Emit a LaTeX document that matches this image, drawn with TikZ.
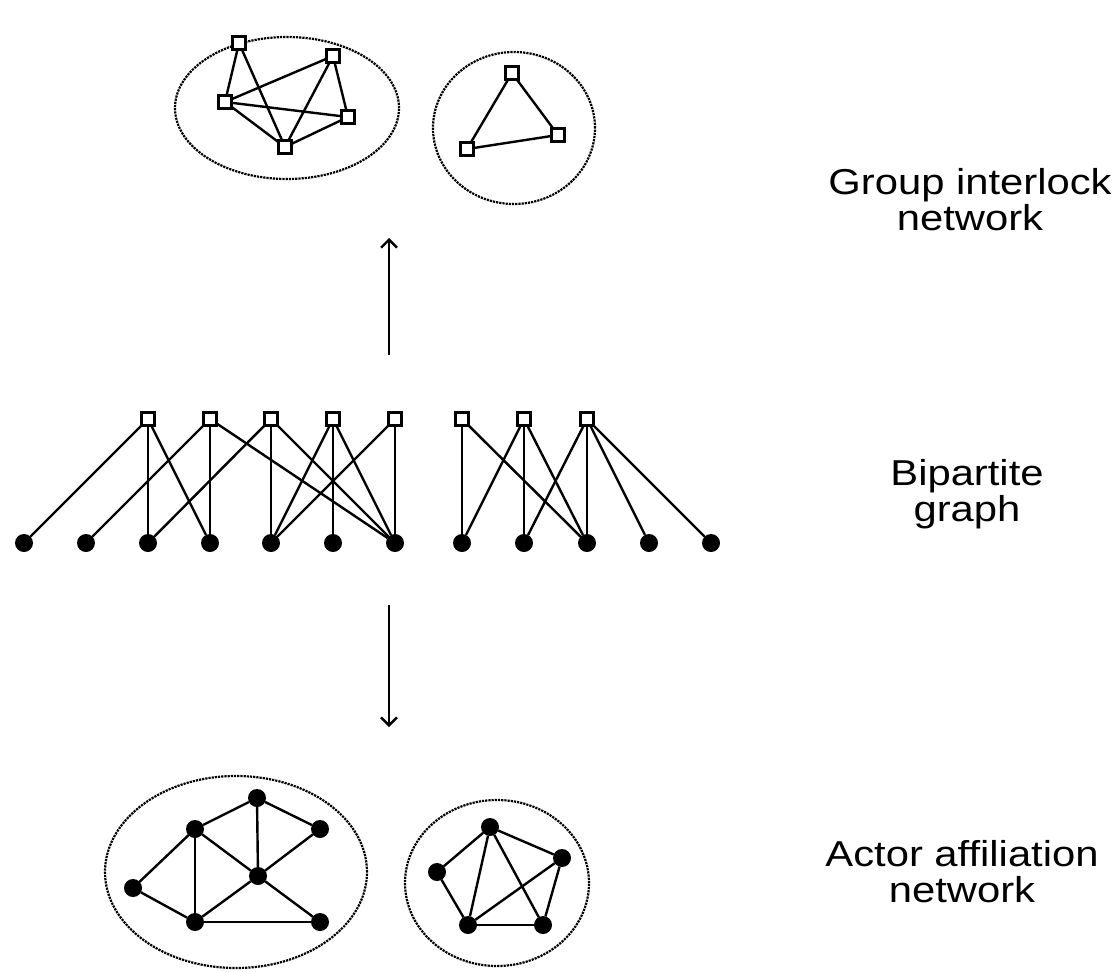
\documentclass[tikz,border=0pt]{standalone}
\usepackage{fontspec}
\newfontfamily\labelfont[FakeStretch=1.16]{Liberation Sans}
\usepackage{tikz}
\usepackage{tkz-berge}
\usetikzlibrary{decorations,arrows,arrows.meta,shapes}
\newcommand{\inners}{0pt}
\newcommand{\outers}{0pt}
\tikzset{
  blob/.style={shape=ellipse, draw=black, densely dotted, line width=2.2pt},
  firm/.style={shape=rectangle, draw=black, fill=white, line width=2.4pt,
               minimum size=13pt, inner sep=\inners, outer sep=\outers},
  caption/.style={align=center, font=\labelfont\fontsize{36}{36}\selectfont},
  flow/.style={-{Straight Barb[length=8pt,width=16pt,line width=2.4pt]}, line width=2.4pt}
}

\begin{document}
\begin{tikzpicture}[x=1pt,y=-1pt]
            %\draw[help lines] (0,0) grid (1117,972);
            \useasboundingbox (0,0) rectangle (1117,972);
            \GraphInit[vstyle=Simple]
            \SetVertexSimple[Shape=circle, FillColor=black, MinSize=18pt]
            \tikzset{VertexStyle/.style = {shape=circle, fill=black, minimum size=18pt,
                       inner sep = \inners, outer sep = \outers},
                     EdgeStyle/.append style = {line width=2.4pt, color=black}}
            % dotted outlines
            \node[blob, minimum width=224pt, minimum height=142pt] (grpL) at (287,108) {};
            \node[blob, minimum width=162pt, minimum height=152pt] (grpR) at (514,128) {};
            \node[blob, minimum width=262pt, minimum height=192pt] (actL) at (236,872) {};
            \node[blob, minimum width=184pt, minimum height=166pt] (actR) at (497,883) {};
            % group interlock network
            \node[firm] (g1) at (239,43) {};
            \node[firm] (g2) at (333,56) {};
            \node[firm] (g3) at (225,102) {};
            \node[firm] (g4) at (348,117) {};
            \node[firm] (g5) at (285,147) {};
            \Edges(g1,g3,g2,g4,g5,g1)
            \Edge(g3)(g4)
            \Edge(g3)(g5)
            \Edge(g2)(g5)
            \node[firm] (h1) at (512,73) {};
            \node[firm] (h2) at (558,135) {};
            \node[firm] (h3) at (467,149) {};
            \Edges(h1,h2,h3,h1)
            % bipartite graph
            \foreach \i/\x in {1/148,2/210,3/271,4/333,5/395,6/462,7/524,8/587}
              {\node[firm] (s\i) at (\x,419) {};}
            \foreach \i/\x in {1/24,2/86,3/148,4/210,5/271,6/333,7/395,8/462,9/524,10/587,11/649,12/711}
              {\Vertex[x=\x,y=543,NoLabel]{a\i}}
            \foreach \s/\a in {1/1,1/3,1/4,2/2,2/4,2/7,3/3,3/5,3/7,4/5,4/6,4/7,5/5,5/7,
                               6/8,6/10,7/8,7/9,7/10,8/9,8/10,8/11,8/12}
              {\Edge(s\s)(a\a)}
            % actor affiliation network
            \Vertex[x=257,y=798,NoLabel]{b1}
            \Vertex[x=195,y=829,NoLabel]{b2}
            \Vertex[x=320,y=829,NoLabel]{b3}
            \Vertex[x=133,y=888,NoLabel]{b4}
            \Vertex[x=258,y=876,NoLabel]{b5}
            \Vertex[x=195,y=922,NoLabel]{b6}
            \Vertex[x=320,y=922,NoLabel]{b7}
            \Edges(b4,b2,b1,b3,b5,b7,b6,b4)
            \Edges(b2,b6,b5,b2)
            \Edge(b1)(b5)
            \Vertex[x=490,y=827,NoLabel]{c1}
            \Vertex[x=562,y=858,NoLabel]{c2}
            \Vertex[x=437,y=872,NoLabel]{c3}
            \Vertex[x=468,y=925,NoLabel]{c4}
            \Vertex[x=543,y=925,NoLabel]{c5}
            \Edges(c3,c1,c2,c5,c4,c3)
            \Edges(c4,c1,c5)
            \Edge(c4)(c2)
            % arrows
            \coordinate (upfrom) at (389,355);
            \coordinate (upto) at (389,238);
            \coordinate (downfrom) at (389,605);
            \coordinate (downto) at (389,727);
            \draw[flow] (upfrom) -- (upto);
            \draw[flow] (downfrom) -- (downto);
            % captions
            \node[caption] (grouplab) at (970,200) {Group interlock\\network};
            \node[caption] (bilab) at (967,494) {Bipartite\\graph};
            \node[caption] (actorlab) at (962,872) {Actor affiliation\\network};
        \end{tikzpicture}
\end{document}
